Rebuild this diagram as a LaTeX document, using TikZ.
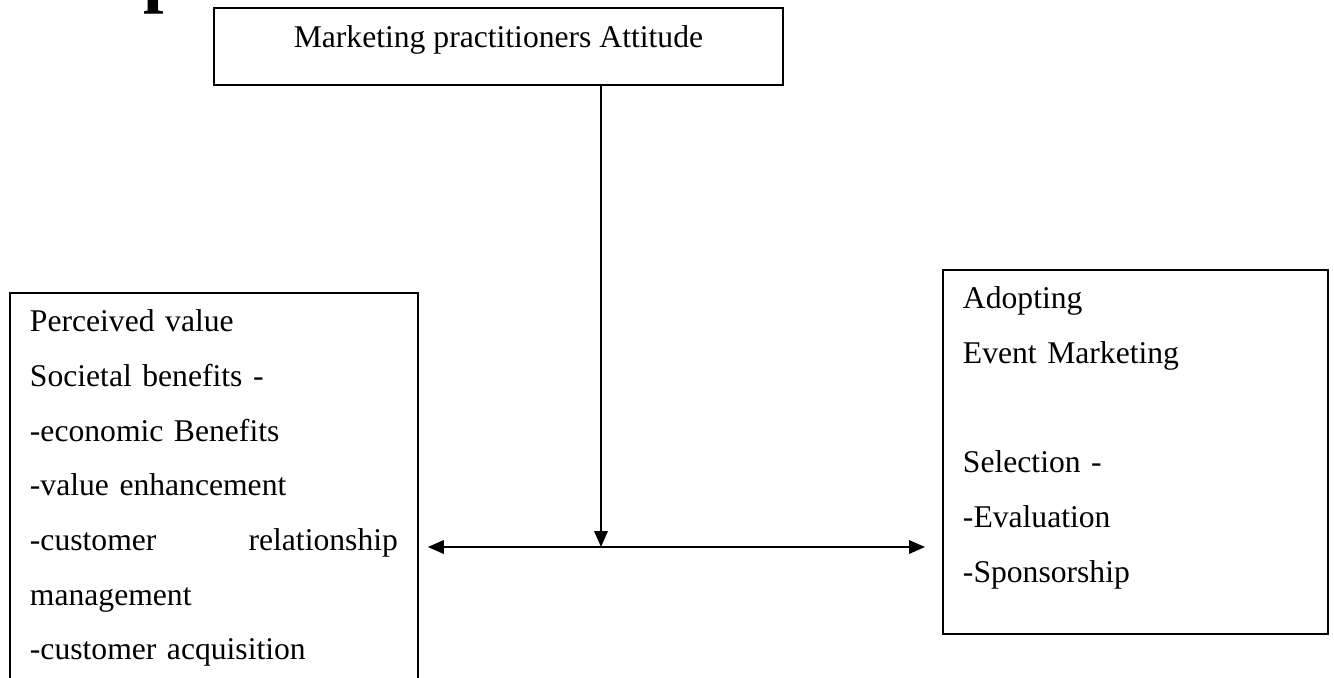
\documentclass[tikz,border=0pt]{standalone}
\usepackage{fontspec}
\setmainfont{Liberation Serif}
\usetikzlibrary{arrows.meta}
\tikzset{
  box/.style={draw, line width=1.1pt, rectangle, inner xsep=0.4cm, inner ysep=0.34cm,
    text height=0.44cm, align=left},
}
\begin{document}
\begin{tikzpicture}[x=0.02cm, y=-0.02cm, >={Triangle[length=0.32cm,width=0.27cm]},
    every node/.style={font=\fontsize{18}{31.1}\selectfont}]
      \useasboundingbox (0,0) rectangle (1334,677);
      \node[anchor=base west, inner sep=0pt, font=\bfseries\fontsize{42}{46}\selectfont] (heading) at (143,-1.5) {p};
      \node[draw, line width=1.1pt, anchor=north west, minimum width=11.38cm, inner ysep=0.36cm,
        text height=0.44cm, text depth=0.38cm] (attitude) at (213,7) {Marketing practitioners Attitude};
      \node[box, anchor=north west, text width=7.36cm, text depth=7.8cm] (value) at (9,292)
        {Perceived value\\
         Societal benefits -\\
         -economic Benefits\\
         -value enhancement\\
         -customer\hfill relationship\\
         management\\
         -customer acquisition};
      \node[box, anchor=north west, text width=6.9cm, text depth=6.16cm] (adopting) at (942,269)
        {Adopting\\
         Event Marketing\\[31.1pt]
         Selection -\\
         -Evaluation\\
         -Sponsorship};
      \coordinate (junction) at (601,547);
      \begin{scope}[line width=1.1pt]
        \draw[->] (attitude.south -| junction) to (junction);
        \draw[<->, shorten <=0.18cm, shorten >=0.34cm] (value.east |- junction) to (adopting.west |- junction);
      \end{scope}
    \end{tikzpicture}
\end{document}
